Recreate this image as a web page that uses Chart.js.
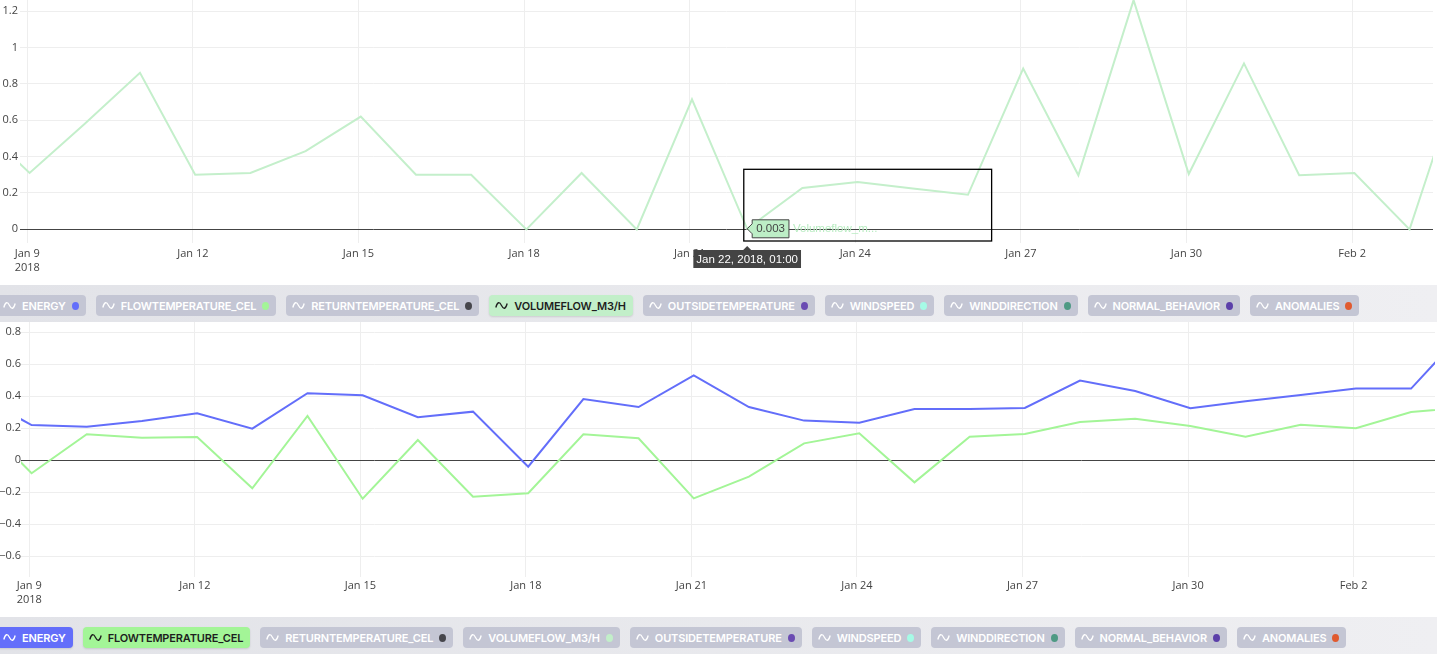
<!DOCTYPE html>
<html>
<head>
<meta charset="utf-8">
<script src="https://cdn.jsdelivr.net/npm/chart.js@4.4.1/dist/chart.umd.min.js"></script>
<style>
  html, body { margin: 0; padding: 0; background: #fff; width: 1437px; height: 654px; overflow: hidden; }
  .plot { position: relative; width: 1437px; }
  .strip { height: 37px; box-sizing: border-box; padding-top: 10px; overflow: hidden;
           background: linear-gradient(90deg, #e2e3e8, #efeff2); }
  .pills { display: flex; gap: 10px; margin-left: -3px; }
  .pill { display: flex; align-items: center; height: 21px; border-radius: 4px; background: #c4c6d4; color: #fff;
          font: 600 11px Inter, sans-serif; letter-spacing: -0.17px; padding: 0 7px 0 6px; white-space: nowrap; }
  .pill.on { box-shadow: 0 1px 2px rgba(0,0,0,0.12); }
  .pill svg { width: 13px; height: 9px; margin-right: 6px; flex: none; }
  .pill .dot { width: 7px; height: 8px; border-radius: 50%; margin-left: 6px; flex: none; }
</style>
</head>
<body>
<div class="plot"><canvas id="top" width="1437" height="285"></canvas></div>
<div class="strip"><div class="pills" id="legendTop"></div></div>
<div class="plot"><canvas id="bottom" width="1437" height="295"></canvas></div>
<div class="strip"><div class="pills" id="legendBottom"></div></div>
<script>
// daily samples, all at 01:00
const dates = ['2018-01-08', '2018-01-09', '2018-01-10', '2018-01-11', '2018-01-12', '2018-01-13', '2018-01-14',
  '2018-01-15', '2018-01-16', '2018-01-17', '2018-01-18', '2018-01-19', '2018-01-20', '2018-01-21',
  '2018-01-22', '2018-01-23', '2018-01-24', '2018-01-25', '2018-01-26', '2018-01-27', '2018-01-28',
  '2018-01-29', '2018-01-30', '2018-01-31', '2018-02-01', '2018-02-02', '2018-02-03', '2018-02-04'];
const sampleHour = '01:00';

const volumeflow = [0.6, 0.31, 0.58, 0.86, 0.30, 0.31, 0.43, 0.62, 0.30, 0.30, 0.0, 0.31, 0.0, 0.715,
  0.003, 0.227, 0.26, 0.225, 0.19, 0.884, 0.297, 1.26, 0.304, 0.912, 0.297, 0.31, 0.0, 0.92];
const energy = [0.41, 0.22, 0.21, 0.245, 0.294, 0.198, 0.419, 0.406, 0.269, 0.304, -0.04, 0.383, 0.333, 0.531,
  0.333, 0.248, 0.235, 0.32, 0.32, 0.327, 0.498, 0.433, 0.325, 0.369, 0.408, 0.448, 0.448, 0.82];
const flowtemperature = [0.27, -0.081, 0.1625, 0.141, 0.146, -0.175, 0.277, -0.24, 0.127, -0.227, -0.206, 0.1625,
  0.1375, -0.2375, -0.102, 0.106, 0.169, -0.1375, 0.1475, 0.164, 0.239, 0.26, 0.214, 0.1475, 0.2225, 0.2, 0.302, 0.33];

const tickDates = ['2018-01-09', '2018-01-12', '2018-01-15', '2018-01-18', '2018-01-21', '2018-01-24',
  '2018-01-27', '2018-01-30', '2018-02-02'];
const tickLabels = [['Jan 9', '2018'], 'Jan 12', 'Jan 15', 'Jan 18', 'Jan 21', 'Jan 24', 'Jan 27', 'Jan 30', 'Feb 2'];

const seriesNames = ['ENERGY', 'FLOWTEMPERATURE_CEL', 'RETURNTEMPERATURE_CEL', 'VOLUMEFLOW_M3/H',
  'OUTSIDETEMPERATURE', 'WINDSPEED', 'WINDDIRECTION', 'NORMAL_BEHAVIOR', 'ANOMALIES'];
const seriesColors = ['#636efa', '#a3f597', '#46464c', '#c2efc9', '#6a4bb2', '#a6fbe6', '#4e9a84', '#5b3fa9', '#e05a2f'];
const seriesText = ['#fff', '#1e1e1e', '#fff', '#1e1e1e', '#fff', '#1e1e1e', '#fff', '#fff', '#fff'];

const hoverDate = '2018-01-22';
const hoverLabel = 'Jan 22, 2018, 01:00';
const hoverName = 'Volumeflow_m...';

const origin = Date.parse('2018-01-09T00:00:00Z');
const dayOffset = (d, h) => (Date.parse(d + 'T' + (h || sampleHour) + ':00Z') - origin) / 864e5;
const points = vals => vals.map((v, i) => ({ x: dayOffset(dates[i]), y: v }));

function buildLegend(el, active) {
  seriesNames.forEach((name, i) => {
    const on = active.includes(name);
    const p = document.createElement('div');
    p.className = 'pill' + (on ? ' on' : '');
    if (on) { p.style.background = seriesColors[i]; p.style.color = seriesText[i]; }
    p.innerHTML = '<svg viewBox="0 0 13 9"><path d="M0.8 6.5 C2.5 0.5 4.5 0.5 6.5 4.5 S10.5 8.5 12.2 2.5" fill="none" stroke="currentColor" stroke-width="1.3"/></svg>'
      + '<span>' + name + '</span>' + (on ? '' : '<span class="dot" style="background:' + seriesColors[i] + '"></span>');
    el.appendChild(p);
  });
}
buildLegend(document.getElementById('legendTop'), ['VOLUMEFLOW_M3/H']);
buildLegend(document.getElementById('legendBottom'), ['ENERGY', 'FLOWTEMPERATURE_CEL']);

function options(c) {
  return {
    responsive: false,
    animation: false,
    events: [],
    layout: { padding: { top: 0, right: c.padRight, bottom: 0, left: 0 } },
    plugins: { legend: { display: false }, tooltip: { enabled: false } },
    elements: { point: { radius: 0 }, line: { borderWidth: 2, tension: 0 } },
    scales: {
      x: {
        type: 'linear', min: c.xmin, max: c.xmax,
        border: { display: false },
        grid: { color: '#eee', drawTicks: false },
        afterBuildTicks: s => { s.ticks = tickDates.map(d => ({ value: dayOffset(d, '00:00') })); },
        afterFit: s => { s.height = c.axisH; s.paddingLeft = 0; s.paddingRight = 0; },
        ticks: {
          color: '#444', padding: c.xPad, maxRotation: 0, autoSkip: false,
          font: { family: 'Open Sans', size: 11, lineHeight: 1.25 },
          callback: (v, i) => tickLabels[i]
        }
      },
      y: {
        min: c.ymin, max: c.ymax,
        border: { display: false },
        grid: { color: ctx => Math.abs(ctx.tick.value) < 1e-9 ? '#444' : '#eee', drawTicks: false },
        afterFit: s => { s.width = c.yW; s.paddingTop = 0; s.paddingBottom = 0; },
        ticks: {
          stepSize: 0.2, includeBounds: false, color: '#444', padding: c.yPad,
          font: { family: 'Open Sans', size: 11 },
          callback: v => String(Math.round(v * 10) / 10).replace('-', '\u2212')
        }
      }
    }
  };
}

const selectBox = { x0: 12.98, x1: 17.47, y0: -0.064, y1: 0.33 };

const hoverPlugin = {
  id: 'hover',
  afterDraw(chart) {
    const { ctx, scales: { x, y } } = chart;
    const i = dates.indexOf(hoverDate);
    const px = x.getPixelForValue(dayOffset(hoverDate)), py = y.getPixelForValue(volumeflow[i]);
    ctx.save();
    // drag box
    ctx.strokeStyle = '#000'; ctx.lineWidth = 1.3;
    const bx0 = x.getPixelForValue(selectBox.x0), bx1 = x.getPixelForValue(selectBox.x1);
    const by0 = y.getPixelForValue(selectBox.y1), by1 = y.getPixelForValue(selectBox.y0);
    ctx.strokeRect(bx0, by0, bx1 - bx0, by1 - by0);

    ctx.font = '11.5px "Liberation Sans"';
    ctx.textBaseline = 'middle';
    // value label
    const txt = volumeflow[i].toFixed(3);
    const tw = ctx.measureText(txt).width;
    const lx = px + 5, h = 18, top = py - h / 2, w = tw + 8;
    ctx.beginPath();
    ctx.moveTo(px, py); ctx.lineTo(lx, py - 5); ctx.lineTo(lx, top); ctx.lineTo(lx + w, top);
    ctx.lineTo(lx + w, top + h); ctx.lineTo(lx, top + h); ctx.lineTo(lx, py + 5); ctx.closePath();
    ctx.fillStyle = '#bdeec6'; ctx.fill();
    ctx.strokeStyle = '#444'; ctx.lineWidth = 1; ctx.stroke();
    ctx.fillStyle = '#444'; ctx.textAlign = 'left';
    ctx.fillText(txt, lx + 4, py + 0.5);
    ctx.fillStyle = '#b8ecc1';
    ctx.fillText(hoverName, lx + w + 4, py + 0.5);

    // axis label
    const aw = ctx.measureText(hoverLabel).width + 6, at = x.top + 7, ah = 18;
    ctx.beginPath();
    ctx.moveTo(px, x.top + 3); ctx.lineTo(px + 4, at); ctx.lineTo(px + aw / 2, at); ctx.lineTo(px + aw / 2, at + ah);
    ctx.lineTo(px - aw / 2, at + ah); ctx.lineTo(px - aw / 2, at); ctx.lineTo(px - 4, at); ctx.closePath();
    ctx.fillStyle = '#444'; ctx.fill();
    ctx.fillStyle = '#fff'; ctx.textAlign = 'center';
    ctx.fillText(hoverLabel, px, at + ah / 2 + 0.5);
    ctx.restore();
  }
};

new Chart(document.getElementById('top'), {
  type: 'line',
  data: { datasets: [{ label: 'Volumeflow_m3/h', data: points(volumeflow), borderColor: '#c4efcb' }] },
  options: options({ xmin: -0.132, xmax: 25.466, ymin: -0.075, ymax: 1.2605, axisH: 42, xPad: 4, yW: 20, yPad: 2, padRight: 4 }),
  plugins: [hoverPlugin]
});

new Chart(document.getElementById('bottom'), {
  type: 'line',
  data: {
    datasets: [
      { label: 'Energy', data: points(energy), borderColor: '#636efa' },
      { label: 'Flowtemperature_cel', data: points(flowtemperature), borderColor: '#a3f597' }
    ]
  },
  options: options({ xmin: -0.150, xmax: 25.475, ymin: -0.729, ymax: 0.864, axisH: 40, xPad: 2, yW: 21, yPad: 0, padRight: 2 })
});
</script>
</body>
</html>
